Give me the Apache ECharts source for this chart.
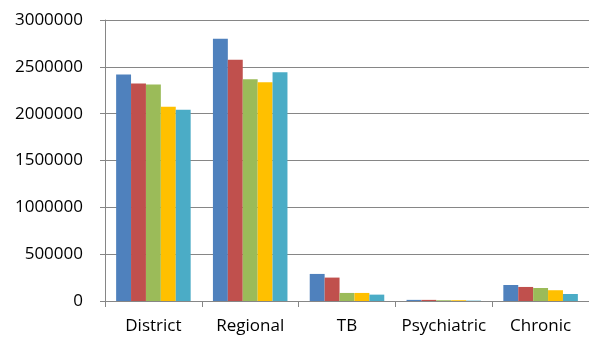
<!DOCTYPE html>
<html>
<head>
<meta charset="utf-8">
<script src="https://cdn.jsdelivr.net/npm/echarts@6/dist/echarts.min.js"></script>
<style>
  html, body { margin: 0; padding: 0; background: #fff; }
  #chart { width: 589px; height: 340px; }
</style>
</head>
<body>
<div id="chart"></div>
<script>
// Hospital categories along the x axis
var categories = ['District', 'Regional', 'TB', 'Psychiatric', 'Chronic'];

// Five series, one value per category
var series1 = [2418000, 2800000, 289000, 12000, 171000];
var series2 = [2322000, 2575000, 250000, 12000, 150000];
var series3 = [2311000, 2368000, 86000, 8000, 139000];
var series4 = [2075000, 2336000, 86000, 8000, 115000];
var series5 = [2043000, 2443000, 68000, 4000, 75000];

var seriesNames = ['Series 1', 'Series 2', 'Series 3', 'Series 4', 'Series 5'];
var seriesData = [series1, series2, series3, series4, series5];
var colors = ['#4F81BD', '#C0504D', '#9BBB59', '#FFC000', '#4BACC6'];

var font = '"Open Sans", "Liberation Sans", sans-serif';
var axisGray = '#868686';

var chart = echarts.init(document.getElementById('chart'), null, { renderer: 'canvas' });

chart.setOption({
  animation: false,
  color: colors,
  grid: { left: 105, top: 20, width: 494, height: 281, containLabel: false },
  xAxis: {
    type: 'category',
    data: categories,
    axisLine: { lineStyle: { color: axisGray, width: 1 } },
    axisTick: { show: true, length: 6, alignWithLabel: false, lineStyle: { color: axisGray } },
    axisLabel: { color: '#000', fontFamily: font, fontSize: 17, margin: 17, interval: 0 }
  },
  yAxis: {
    type: 'value',
    min: 0,
    max: 3000000,
    interval: 500000,
    axisLine: { show: true, lineStyle: { color: axisGray, width: 1 } },
    axisTick: { show: true, inside: false, length: 5, lineStyle: { color: axisGray } },
    axisLabel: {
      color: '#000', fontFamily: font, fontSize: 17, margin: 22,
      formatter: function (v) { return String(v); }
    },
    splitLine: { show: true, lineStyle: { color: axisGray, width: 1 } }
  },
  series: seriesData.map(function (d, i) {
    return {
      name: seriesNames[i],
      type: 'bar',
      data: d,
      barGap: '0%',
      barCategoryGap: '23%',
      itemStyle: { color: colors[i] }
    };
  })
});
</script>
</body>
</html>
